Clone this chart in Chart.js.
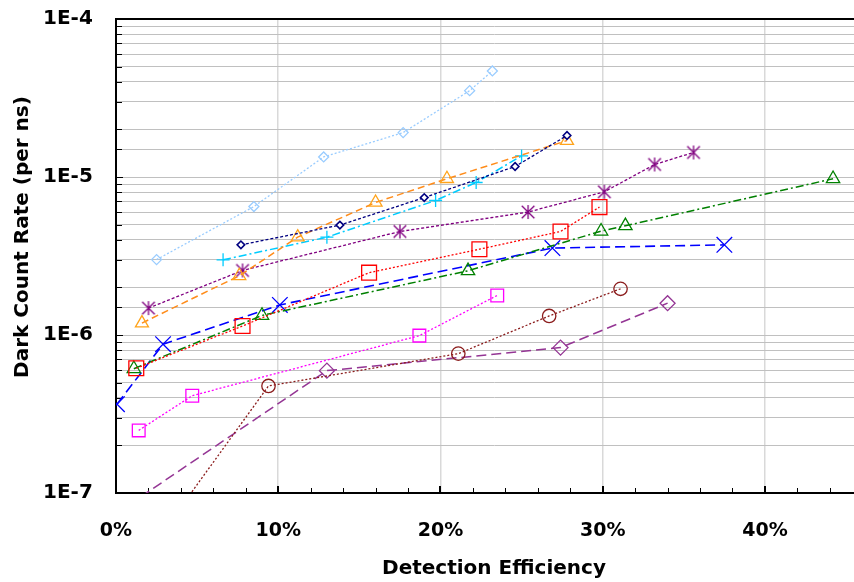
<!DOCTYPE html>
<html>
<head>
<meta charset="utf-8">
<title>Dark Count Rate vs Detection Efficiency</title>
<script src="https://cdn.jsdelivr.net/npm/chart.js@4.4.1/dist/chart.umd.min.js"></script>
<style>
  html, body { margin: 0; padding: 0; background: #fff; overflow: hidden; }
  canvas { display: block; }
</style>
</head>
<body>
<canvas id="dcrChart" width="899" height="582"></canvas>
<script>
'use strict';

// detection efficiency (%) and dark count rate (per ns) for each device curve
let deLightDiamond = [2.5, 8.5, 12.8, 17.7, 21.8, 23.2];
let dcrLightDiamond = [3.0e-6, 6.5e-6, 1.34e-5, 1.91e-5, 3.52e-5, 4.69e-5];

let deNavyDiamond = [7.7, 13.8, 19.0, 24.6, 27.8];
let dcrNavyDiamond = [3.72e-6, 4.96e-6, 7.41e-6, 1.165e-5, 1.83e-5];

let deOrangeTri = [1.6, 7.6, 11.2, 16.0, 20.4, 27.8];
let dcrOrangeTri = [1.19e-6, 2.37e-6, 4.16e-6, 6.9e-6, 9.75e-6, 1.70e-5];

let deCyanPlus = [6.6, 13.0, 19.7, 22.2, 25.0];
let dcrCyanPlus = [2.99e-6, 4.16e-6, 7.1e-6, 9.23e-6, 1.36e-5];

let dePurpleStar = [2.0, 7.8, 17.5, 25.4, 30.1, 33.2, 35.6];
let dcrPurpleStar = [1.48e-6, 2.56e-6, 4.52e-6, 6.0e-6, 8.06e-6, 1.2e-5, 1.43e-5];

let deRedSquare = [1.25, 7.8, 15.6, 22.4, 27.4, 29.8];
let dcrRedSquare = [6.16e-7, 1.14e-6, 2.48e-6, 3.49e-6, 4.52e-6, 6.45e-6];

let deGreenTri = [1.1, 9.0, 21.7, 29.9, 31.4, 44.2];
let dcrGreenTri = [6.12e-7, 1.33e-6, 2.55e-6, 4.54e-6, 4.91e-6, 9.75e-6];

let deBlueX = [0.06, 2.9, 10.1, 26.9, 37.5];
let dcrBlueX = [3.65e-7, 8.75e-7, 1.55e-6, 3.55e-6, 3.72e-6];

let deMagentaSquare = [1.4, 4.7, 18.7, 23.5];
let dcrMagentaSquare = [2.49e-7, 4.13e-7, 9.91e-7, 1.78e-6];

let deBrownCircle = [1.5, 9.4, 21.1, 26.7, 31.1];
let dcrBrownCircle = [3.6e-8, 4.76e-7, 7.62e-7, 1.32e-6, 1.96e-6];

let dePurpleDiamond = [0, 13.0, 27.4, 34.0];
let dcrPurpleDiamond = [7.4e-8, 5.95e-7, 8.32e-7, 1.59e-6];

// axis tick labels
let xTickLabels = ['0%', '10%', '20%', '30%', '40%'];
let yTickLabels = ['1E-7', '1E-6', '1E-5', '1E-4'];

Chart.defaults.font.family = '"DejaVu Sans", sans-serif';
Chart.defaults.color = '#000';

function isDecade(v) {
  let e = Math.log10(v);
  return Math.abs(e - Math.round(e)) < 1e-6;
}

// asterisk marker: an X with a vertical stroke through it
function asterisk(color, r) {
  let c = document.createElement('canvas');
  let s = 2 * Math.ceil(r + 2);
  c.width = s;
  c.height = s;
  let g = c.getContext('2d');
  let m = s / 2;
  g.strokeStyle = color;
  g.lineWidth = 1.3;
  g.beginPath();
  g.moveTo(m - r, m - r); g.lineTo(m + r, m + r);
  g.moveTo(m + r, m - r); g.lineTo(m - r, m + r);
  g.moveTo(m, m - r * 1.1); g.lineTo(m, m + r * 1.1);
  g.stroke();
  return c;
}

function series(xs, ys, o) {
  let pts = [];
  for (let i = 0; i < xs.length; i++) {
    pts.push({ x: xs[i], y: ys[i] });
  }
  return {
    data: pts,
    showLine: true,
    borderColor: o.line,
    borderWidth: o.lw || 1.3,
    borderDash: o.dash,
    tension: 0,
    pointStyle: o.style,
    pointRadius: o.r,
    pointBorderColor: o.mark || o.line,
    pointBorderWidth: o.pw || 1.3,
    pointBackgroundColor: o.fill || 'rgba(0,0,0,0)'
  };
}

let datasets = [
  series(deLightDiamond, dcrLightDiamond, { line: '#99ccff', dash: [2, 2], style: 'rectRot', r: 5 }),
  series(deNavyDiamond, dcrNavyDiamond, { line: '#000080', dash: [3, 2], style: 'rectRot', r: 3.8, pw: 1.6, fill: '#fff' }),
  series(deOrangeTri, dcrOrangeTri, { line: '#ff8c1a', mark: '#ffa31a', dash: [7, 4], style: 'triangle', r: 7.5, lw: 1.5 }),
  series(deCyanPlus, dcrCyanPlus, { line: '#00ccff', dash: [8, 3, 2, 3], style: 'cross', r: 6.5, lw: 1.5 }),
  series(dePurpleStar, dcrPurpleStar, { line: '#800080', dash: [3, 2], style: asterisk('#800080', 6.3), r: 6.5 }),
  series(deRedSquare, dcrRedSquare, { line: '#ff0000', dash: [2, 2], style: 'rect', r: 10.5 }),
  series(deGreenTri, dcrGreenTri, { line: '#008000', dash: [8, 3, 2, 3], style: 'triangle', r: 7.7, lw: 1.5 }),
  series(deBlueX, dcrBlueX, { line: '#0000ff', dash: [10, 5], style: 'crossRot', r: 11, lw: 1.6 }),
  series(deMagentaSquare, dcrMagentaSquare, { line: '#ff00ff', dash: [2, 2], style: 'rect', r: 9 }),
  series(deBrownCircle, dcrBrownCircle, { line: '#8b1c1c', dash: [2, 2], style: 'circle', r: 6.7 }),
  series(dePurpleDiamond, dcrPurpleDiamond, { line: '#943594', dash: [10, 5], style: 'rectRot', r: 7.5, lw: 1.5 })
];

// inner tick marks, the top edge of the frame and the rotated y title
let frameTicks = {
  id: 'frameTicks',
  beforeDatasetsDraw(chart) {
    let ctx = chart.ctx;
    let a = chart.chartArea;
    let x = chart.scales.x;
    let y = chart.scales.y;
    ctx.save();
    ctx.strokeStyle = '#000';
    ctx.lineWidth = 1;
    ctx.beginPath();
    y.ticks.forEach(t => {
      let py = Math.round(y.getPixelForValue(t.value)) + 0.5;
      ctx.moveTo(a.left, py);
      ctx.lineTo(a.left + (isDecade(t.value) ? 7 : 6), py);
    });
    x.ticks.forEach(t => {
      if (t.value % 2 !== 0 || t.value % 10 === 0) return;
      let px = Math.round(x.getPixelForValue(t.value)) + 0.5;
      ctx.moveTo(px, a.bottom);
      ctx.lineTo(px, a.bottom - 5);
    });
    ctx.stroke();
    ctx.lineWidth = 2;
    ctx.beginPath();
    x.ticks.forEach(t => {
      if (t.value % 10 !== 0) return;
      let px = Math.round(x.getPixelForValue(t.value));
      ctx.moveTo(px, a.bottom);
      ctx.lineTo(px, a.bottom - 7);
    });
    ctx.moveTo(a.left, Math.round(a.top));
    ctx.lineTo(a.right, Math.round(a.top));
    ctx.stroke();
    ctx.restore();
  },
  afterDraw(chart) {
    let ctx = chart.ctx;
    ctx.save();
    ctx.translate(23, 237);
    ctx.rotate(-Math.PI / 2);
    ctx.font = 'bold 20px "DejaVu Sans"';
    ctx.fillStyle = '#000';
    ctx.textAlign = 'center';
    ctx.textBaseline = 'middle';
    ctx.fillText('Dark Count Rate (per ns)', 0, 0);
    ctx.restore();
  }
};

new Chart(document.getElementById('dcrChart'), {
  type: 'scatter',
  data: { datasets: datasets },
  options: {
    responsive: false,
    animation: false,
    layout: { padding: { top: 0, right: 0, bottom: 0, left: 43 } },
    plugins: {
      legend: { display: false },
      tooltip: { enabled: false }
    },
    scales: {
      x: {
        type: 'linear',
        min: 0,
        max: 46.6,
        afterFit(s) { s.height = 89; },
        grid: {
          color: c => (c.tick && c.tick.value % 10 === 0 ? '#d9d9d9' : 'rgba(0,0,0,0)'),
          lineWidth: 1.5,
          drawTicks: false
        },
        border: { color: '#000', width: 2 },
        ticks: {
          stepSize: 2,
          autoSkip: false,
          maxRotation: 0,
          padding: 27,
          font: { size: 19, weight: 'bold' },
          callback: v => (v % 10 === 0 ? xTickLabels[v / 10] : '')
        },
        title: {
          display: true,
          text: 'Detection Efficiency',
          font: { size: 20, weight: 'bold' },
          padding: { top: 0, bottom: 1 }
        }
      },
      y: {
        type: 'logarithmic',
        min: 1e-7,
        max: 1e-4,
        afterFit(s) { s.width = 73; },
        grid: { color: '#c0c0c0', lineWidth: 1, drawTicks: false },
        border: { color: '#000', width: 2 },
        ticks: {
          autoSkip: false,
          crossAlign: 'far',
          padding: 7,
          font: { size: 20, weight: 'bold' },
          callback: v => (isDecade(v) ? yTickLabels[Math.round(Math.log10(v)) + 7] : '')
        }
      }
    }
  },
  plugins: [frameTicks]
});
</script>
</body>
</html>
